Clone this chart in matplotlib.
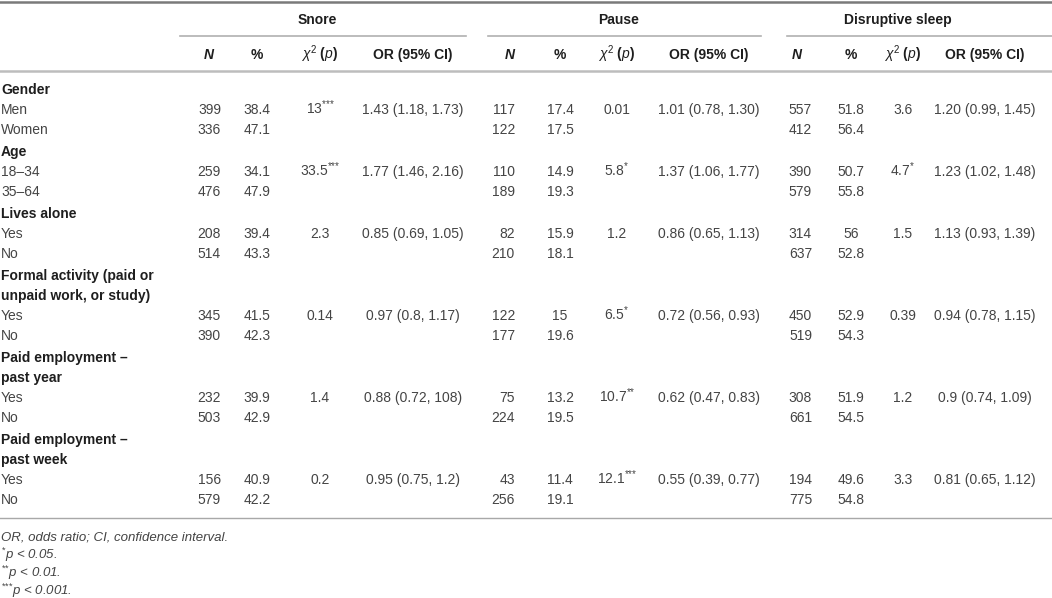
import matplotlib.pyplot as plt

plt.rcParams['font.family'] = ['Liberation Sans', 'DejaVu Sans']
plt.rcParams['mathtext.fontset'] = 'custom'
plt.rcParams['mathtext.rm'] = 'Liberation Sans'
plt.rcParams['mathtext.it'] = 'Liberation Sans:italic'
plt.rcParams['mathtext.bf'] = 'Liberation Sans:bold'

# table content
groups = ['Gender', 'Age', 'Lives alone',
          'Formal activity (paid or\nunpaid work, or study)',
          'Paid employment –\npast year', 'Paid employment –\npast week']
levels = [['Men', 'Women'], ['18–34', '35–64'], ['Yes', 'No'],
          ['Yes', 'No'], ['Yes', 'No'], ['Yes', 'No']]

outcomes = ['Snore', 'Pause', 'Disruptive sleep']

snore_n = [399, 336, 259, 476, 208, 514, 345, 390, 232, 503, 156, 579]
snore_pct = ['38.4', '47.1', '34.1', '47.9', '39.4', '43.3', '41.5', '42.3', '39.9', '42.9', '40.9', '42.2']
snore_chi = ['13***', '33.5***', '2.3', '0.14', '1.4', '0.2']
snore_or = ['1.43 (1.18, 1.73)', '1.77 (1.46, 2.16)', '0.85 (0.69, 1.05)',
            '0.97 (0.8, 1.17)', '0.88 (0.72, 108)', '0.95 (0.75, 1.2)']

pause_n = [117, 122, 110, 189, 82, 210, 122, 177, 75, 224, 43, 256]
pause_pct = ['17.4', '17.5', '14.9', '19.3', '15.9', '18.1', '15', '19.6', '13.2', '19.5', '11.4', '19.1']
pause_chi = ['0.01', '5.8*', '1.2', '6.5*', '10.7**', '12.1***']
pause_or = ['1.01 (0.78, 1.30)', '1.37 (1.06, 1.77)', '0.86 (0.65, 1.13)',
            '0.72 (0.56, 0.93)', '0.62 (0.47, 0.83)', '0.55 (0.39, 0.77)']

disr_n = [557, 412, 390, 579, 314, 637, 450, 519, 308, 661, 194, 775]
disr_pct = ['51.8', '56.4', '50.7', '55.8', '56', '52.8', '52.9', '54.3', '51.9', '54.5', '49.6', '54.8']
disr_chi = ['3.6', '4.7*', '1.5', '0.39', '1.2', '3.3']
disr_or = ['1.20 (0.99, 1.45)', '1.23 (1.02, 1.48)', '1.13 (0.93, 1.39)',
           '0.94 (0.78, 1.15)', '0.9 (0.74, 1.09)', '0.81 (0.65, 1.12)']

footnotes = ['OR, odds ratio; CI, confidence interval.',
             '*p < 0.05.', '**p < 0.01.', '***p < 0.001.']

blocks = [(snore_n, snore_pct, snore_chi, snore_or),
          (pause_n, pause_pct, pause_chi, pause_or),
          (disr_n, disr_pct, disr_chi, disr_or)]


def star_text(s):
    # raise and shrink the significance stars
    core = s.rstrip('*')
    stars = len(s) - len(core)
    if stars == 0:
        return s
    return core + r'$^{' + r'\mathrm{*}' * stars + r'}$'


def note_text(s):
    stars = len(s) - len(s.lstrip('*'))
    if stars == 0:
        return s
    return r'$^{' + r'\mathrm{*}' * stars + r'}$' + s[stars:]


# layout (pixels)
n_right = [221, 515, 812]
n_head = [209, 510, 797]
pct_x = [257, 560, 851]
chi_x = [320, 617, 903]
or_x = [413, 709, 985]
title_x = [317, 619, 898]
spans = [(180, 466), (488, 761), (787, 1052)]

body = '#444444'
dark = '#1e1e1e'
fs = 10
base = 3.8  # centre line -> baseline offset

fig = plt.figure(figsize=(10.52, 5.98), dpi=100)
ax = fig.add_axes([0, 0, 1, 1])
ax.set_xlim(0, 1052)
ax.set_ylim(598, 0)
ax.axis('off')


def cell(x, y, s, ha='center', **kw):
    kw.setdefault('color', body)
    ax.text(x, y + base, s, ha=ha, va='baseline', fontsize=kw.pop('fontsize', fs), **kw)


# rules
ax.plot([0, 1052], [1.5, 1.5], color='#7a7a7a', lw=1.8)
ax.plot([0, 1052], [71, 71], color='#bdbdbd', lw=1.8)
ax.plot([0, 1052], [518, 518], color='#a8a8a8', lw=1.0)
for (x0, x1) in spans:
    ax.plot([x0, x1], [36, 36], color='#b0b0b0', lw=1.2)

# header
for k, name in enumerate(outcomes):
    cell(title_x[k], 20, name, fontweight='bold', color=dark)
    cell(n_head[k], 55, 'N', fontweight='bold', fontstyle='italic', color=dark)
    cell(pct_x[k], 55, '%', fontweight='bold', color=dark)
    cell(chi_x[k], 55, r'$\chi^{2}$ $\mathbf{(}p\mathbf{)}$', color=dark)
    cell(or_x[k], 55, 'OR (95% CI)', fontweight='bold', color=dark)

# body
y = 90
r = 0
for g, grp in enumerate(groups):
    if g > 0:
        y += 2
    for line in grp.split('\n'):
        cell(1, y, line, ha='left', fontweight='bold', color=dark)
        y += 20
    for j, lev in enumerate(levels[g]):
        cell(1, y, lev, ha='left')
        for k, (nn, pc, chi, orr) in enumerate(blocks):
            cell(n_right[k], y, str(nn[r]), ha='right')
            cell(pct_x[k], y, pc[r])
            if j == 0:
                cell(chi_x[k], y, star_text(chi[g]))
                cell(or_x[k], y, orr[g])
        r += 1
        y += 20

# footnotes
fy = 537
for note in footnotes:
    cell(1, fy, note_text(note), ha='left', fontsize=fs - 0.5, fontstyle='italic')
    fy += 18

fig.savefig('out.png', dpi=100)
